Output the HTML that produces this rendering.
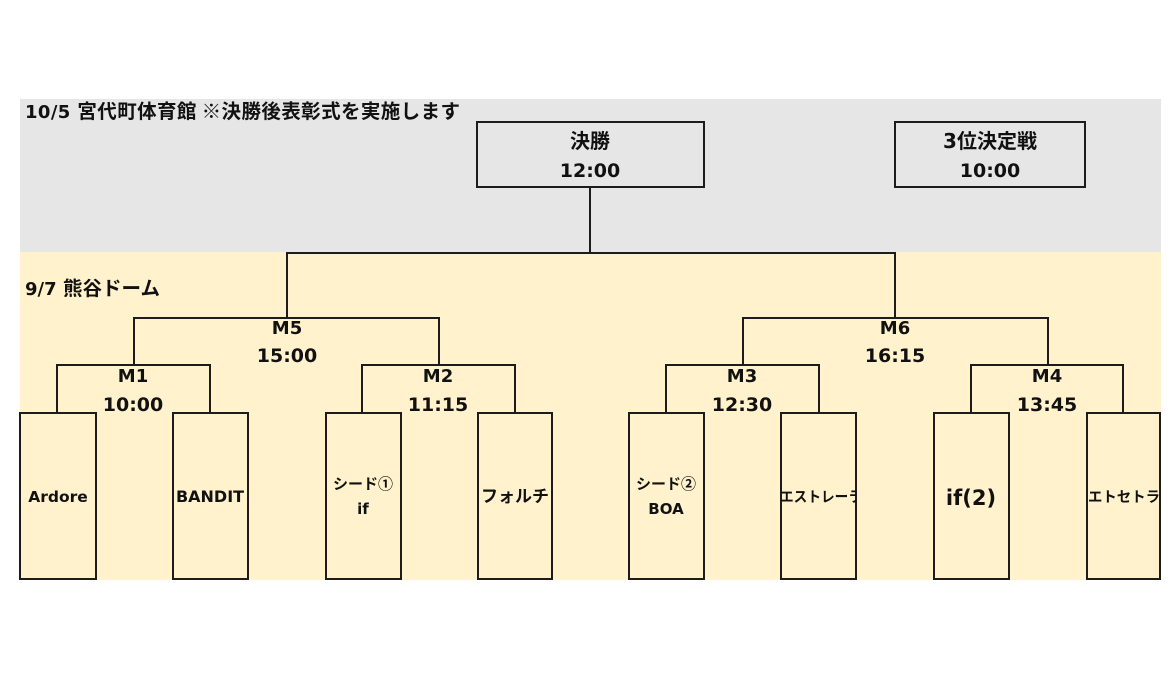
<!DOCTYPE html>
<html><head><meta charset="utf-8"><style>
html,body{margin:0;padding:0;background:#fff;}
svg{display:block;}
text{font-family:"DejaVu Sans","Noto Sans CJK JP",sans-serif;font-weight:bold;fill:#111;}
.j{font-family:"Noto Sans CJK JP","DejaVu Sans",sans-serif;font-weight:bold;}
</style></head><body>
<svg width="1170" height="688" viewBox="0 0 1170 688" xmlns="http://www.w3.org/2000/svg">
<defs>
<clipPath id="c1"><rect x="781" y="413" width="75" height="166"/></clipPath>
<clipPath id="c2"><rect x="1087" y="413" width="73" height="166"/></clipPath>
</defs>
<rect x="20" y="99" width="1141" height="153" fill="#e7e6e6"/>
<rect x="20" y="252" width="1141" height="328" fill="#fff2cc"/>

<g stroke="#1c1c1c" stroke-width="2" fill="none">
<line x1="590" y1="188" x2="590" y2="253"/>
<line x1="286" y1="253" x2="896" y2="253"/>
<line x1="287" y1="252" x2="287" y2="318"/>
<line x1="895" y1="252" x2="895" y2="318"/>
<line x1="133" y1="318" x2="440" y2="318"/>
<line x1="134" y1="317" x2="134" y2="366"/>
<line x1="439" y1="317" x2="439" y2="366"/>
<line x1="742" y1="318" x2="1049" y2="318"/>
<line x1="743" y1="317" x2="743" y2="366"/>
<line x1="1048" y1="317" x2="1048" y2="366"/>
<line x1="56" y1="365" x2="211" y2="365"/>
<line x1="57" y1="364" x2="57" y2="413"/>
<line x1="210" y1="364" x2="210" y2="413"/>
<line x1="361" y1="365" x2="516" y2="365"/>
<line x1="362" y1="364" x2="362" y2="413"/>
<line x1="515" y1="364" x2="515" y2="413"/>
<line x1="665" y1="365" x2="820" y2="365"/>
<line x1="666" y1="364" x2="666" y2="413"/>
<line x1="819" y1="364" x2="819" y2="413"/>
<line x1="970" y1="365" x2="1124" y2="365"/>
<line x1="971" y1="364" x2="971" y2="413"/>
<line x1="1123" y1="364" x2="1123" y2="413"/>
</g>

<g stroke="#1c1c1c" stroke-width="2" fill="#e7e6e6">
<rect x="477" y="122" width="227" height="65"/>
<rect x="895" y="122" width="190" height="65"/>
</g>
<g stroke="#1c1c1c" stroke-width="2" fill="#fff2cc">
<rect x="20" y="413" width="76" height="166"/>
<rect x="173" y="413" width="75" height="166"/>
<rect x="326" y="413" width="75" height="166"/>
<rect x="478" y="413" width="74" height="166"/>
<rect x="629" y="413" width="75" height="166"/>
<rect x="781" y="413" width="75" height="166"/>
<rect x="934" y="413" width="75" height="166"/>
<rect x="1087" y="413" width="73" height="166"/>
</g>

<text x="25" y="118" font-size="18" textLength="435" lengthAdjust="spacing">10/5 <tspan class="j" font-size="19.5">宮代町体育館 ※決勝後表彰式を実施します</tspan></text>
<text x="25" y="295" font-size="18" textLength="135" lengthAdjust="spacing">9/7 <tspan class="j" font-size="19.5">熊谷ドーム</tspan></text>

<g text-anchor="middle">
<text x="590" y="148" font-size="20" class="j">決勝</text>
<text x="590" y="177" font-size="19">12:00</text>
<text x="990" y="148" font-size="20">3<tspan class="j">位決定戦</tspan></text>
<text x="990" y="177" font-size="19">10:00</text>

<text x="287" y="334" font-size="18">M5</text>
<text x="287" y="362" font-size="19">15:00</text>
<text x="895" y="334" font-size="18">M6</text>
<text x="895" y="362" font-size="19">16:15</text>

<text x="133" y="382" font-size="18">M1</text>
<text x="133" y="411" font-size="19">10:00</text>
<text x="438" y="382" font-size="18">M2</text>
<text x="438" y="411" font-size="19">11:15</text>
<text x="742" y="382" font-size="18">M3</text>
<text x="742" y="411" font-size="19">12:30</text>
<text x="1047" y="382" font-size="18">M4</text>
<text x="1047" y="411" font-size="19">13:45</text>

<text x="58" y="502" font-size="15.5">Ardore</text>
<text x="210" y="502" font-size="16">BANDIT</text>
<text x="363" y="489" font-size="15" class="j">シード①</text>
<text x="363" y="514" font-size="15">if</text>
<text x="515" y="502" font-size="17" class="j">フォルチ</text>
<text x="666" y="489" font-size="15" class="j">シード②</text>
<text x="666" y="514" font-size="15">BOA</text>
<text x="971" y="505" font-size="21">if(2)</text>
</g>
<text x="780" y="502" font-size="14.5" class="j" textLength="82" lengthAdjust="spacingAndGlyphs" clip-path="url(#c1)">エストレーラ</text>
<text x="1088" y="502" font-size="14.5" class="j" textLength="72" lengthAdjust="spacingAndGlyphs" clip-path="url(#c2)">エトセトラ</text>
</svg>
</body></html>
